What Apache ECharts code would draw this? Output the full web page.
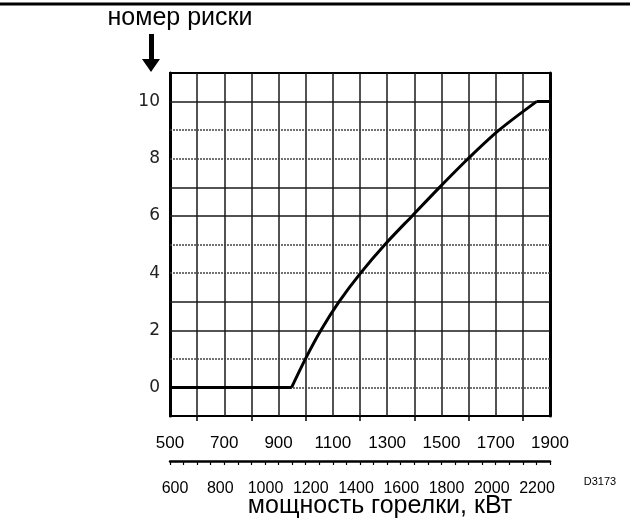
<!DOCTYPE html>
<html>
<head>
<meta charset="utf-8">
<script src="https://cdn.jsdelivr.net/npm/echarts@6/dist/echarts.min.js"></script>
<style>
  html, body { margin: 0; padding: 0; background: #fff; }
  #chart { width: 630px; height: 521px; }
</style>
</head>
<body>
<div id="chart"></div>
<script>
// мощность (верхняя шкала) -> номер риски
const powerTop = [500, 948, 999, 1056, 1123, 1202, 1292, 1392, 1493, 1598, 1712, 1850, 1900];
const notch    = [0,   0,   1,   2,    3,    4,    5,    6,    7,    8,    9,    10,   10];

// линии сетки по вертикали
const solidLevels  = [10, 7, 6, 3, 2];
const dottedLevels = [9, 8, 5, 4, 1, 0];

// подписи и риски шкал
const topTicks = ['500', '600', '700', '800', '900', '1000', '1100', '1200', '1300', '1400', '1500', '1600', '1700', '1800', '1900'];
const rulerTicks = ['500', '550', '600', '650', '700', '750', '800', '850', '900', '950', '1000', '1050', '1100', '1150', '1200',
    '1250', '1300', '1350', '1400', '1450', '1500', '1550', '1600', '1650', '1700', '1750', '1800', '1850', '1900'];
const yLabels = [0, 2, 4, 6, 8, 10];

const chart = echarts.init(document.getElementById('chart'), null, { renderer: 'canvas' });

const gridLine = '#1a1a1a';
const pts = powerTop.map((p, i) => [p, notch[i]]);
const last = pts.length - 1;

chart.setOption({
    animation: false,
    backgroundColor: '#fff',
    grid: [
        { left: 170, top: 73, width: 380, height: 343, show: true, borderColor: '#000', borderWidth: 2 },
        // только для подписей нижней шкалы (кВт)
        { left: 175, top: 73, width: 362, height: 343 }
    ],
    xAxis: [
        {   // верхняя шкала 500..1900
            type: 'value', min: 500, max: 1900, interval: 100, gridIndex: 0,
            position: 'bottom',
            axisLine: { show: false, onZero: false },
            axisTick: { show: false },
            splitLine: { show: true, lineStyle: { color: gridLine, width: 1.5 } },
            axisLabel: {
                margin: 19, color: '#000', fontSize: 17, fontFamily: 'Liberation Sans',
                formatter: v => ((v - 500) % 200 === 0 ? String(v) : '')
            }
        },
        {   // линейка нижней шкалы
            type: 'category', data: rulerTicks, boundaryGap: false, gridIndex: 0,
            position: 'bottom', offset: 45,
            axisLine: { show: true, onZero: false, lineStyle: { color: '#000', width: 2.5 } },
            axisLabel: { show: false },
            axisTick: { show: true, length: 4, interval: 0, lineStyle: { color: '#000', width: 1.2 } },
            splitLine: { show: false }
        },
        {   // короткие риски под рамкой
            type: 'category', data: topTicks, boundaryGap: false, gridIndex: 0,
            position: 'bottom',
            axisLine: { show: false, onZero: false },
            axisLabel: { show: false },
            axisTick: {
                show: true, length: 5, inside: false,
                interval: (i) => i % 2 === 1,
                lineStyle: { color: '#000', width: 1.5 }
            },
            splitLine: { show: false }
        },
        {   // нижняя шкала 600..2200 кВт (подписи)
            type: 'value', min: 600, max: 2200, interval: 200, gridIndex: 1,
            position: 'bottom', offset: 45,
            axisLine: { show: false, onZero: false },
            axisTick: { show: false },
            splitLine: { show: false },
            axisLabel: {
                margin: 20, color: '#000', fontSize: 16, fontFamily: 'Liberation Sans',
                formatter: v => String(v)
            }
        }
    ],
    yAxis: [
        {
            type: 'value', min: -1, max: 11, interval: 1, gridIndex: 0,
            position: 'left',
            axisLine: { show: true, lineStyle: { color: '#000', width: 3 } },
            axisTick: { show: false },
            splitLine: { show: false },
            axisLabel: {
                margin: 10, color: '#222', fontSize: 17, fontFamily: 'DejaVu Sans',
                formatter: v => (yLabels.indexOf(v) >= 0 ? String(v) : '')
            }
        },
        {
            type: 'value', min: -1, max: 11, interval: 1, gridIndex: 0,
            position: 'right',
            axisLine: { show: true, lineStyle: { color: '#000', width: 3 } },
            axisTick: { show: false },
            axisLabel: { show: false },
            splitLine: { show: false }
        },
        {
            type: 'value', min: 0, max: 1, gridIndex: 1, show: false
        }
    ],
    series: [
        {
            type: 'line', data: [], xAxisIndex: 0, yAxisIndex: 0, silent: true,
            markLine: {
                silent: true, symbol: ['none', 'none'], label: { show: false },
                animation: false,
                data: solidLevels.map(v => ({ yAxis: v, lineStyle: { type: 'solid', color: gridLine, width: 1.5 } }))
                    .concat(dottedLevels.map(v => ({ yAxis: v, lineStyle: { type: [2, 1], color: '#444', width: 1.5 } })))
            }
        },
        {   // горизонтальные участки
            type: 'line', xAxisIndex: 0, yAxisIndex: 0, z: 5,
            data: [pts[0], pts[1], null, pts[last - 1], pts[last]],
            connectNulls: false, symbol: 'none',
            lineStyle: { color: '#000', width: 3 }
        },
        {   // кривая
            type: 'line', xAxisIndex: 0, yAxisIndex: 0, z: 5,
            data: pts.slice(1, last),
            smooth: 0.3, symbol: 'none',
            lineStyle: { color: '#000', width: 3 }
        }
    ],
    graphic: [
        { type: 'line', shape: { x1: 0, y1: 4, x2: 630, y2: 4 }, style: { stroke: '#000', lineWidth: 3 } },
        {
            type: 'text', x: 180, y: 18,
            style: { text: 'номер риски', font: '25px "Liberation Sans"', fill: '#000', textAlign: 'center', textVerticalAlign: 'middle' }
        },
        { type: 'rect', shape: { x: 149, y: 34, width: 5, height: 26 }, style: { fill: '#000' } },
        { type: 'polygon', shape: { points: [[142, 59], [160, 59], [151, 72]] }, style: { fill: '#000' } },
        {
            type: 'text', x: 380, y: 506,
            style: { text: 'мощность горелки, кВт', font: '25px "Liberation Sans"', fill: '#000', textAlign: 'center', textVerticalAlign: 'middle' }
        },
        {
            type: 'text', x: 600, y: 482,
            style: { text: 'D3173', font: '11px "Liberation Sans"', fill: '#000', textAlign: 'center', textVerticalAlign: 'middle' }
        }
    ]
});
</script>
</body>
</html>
